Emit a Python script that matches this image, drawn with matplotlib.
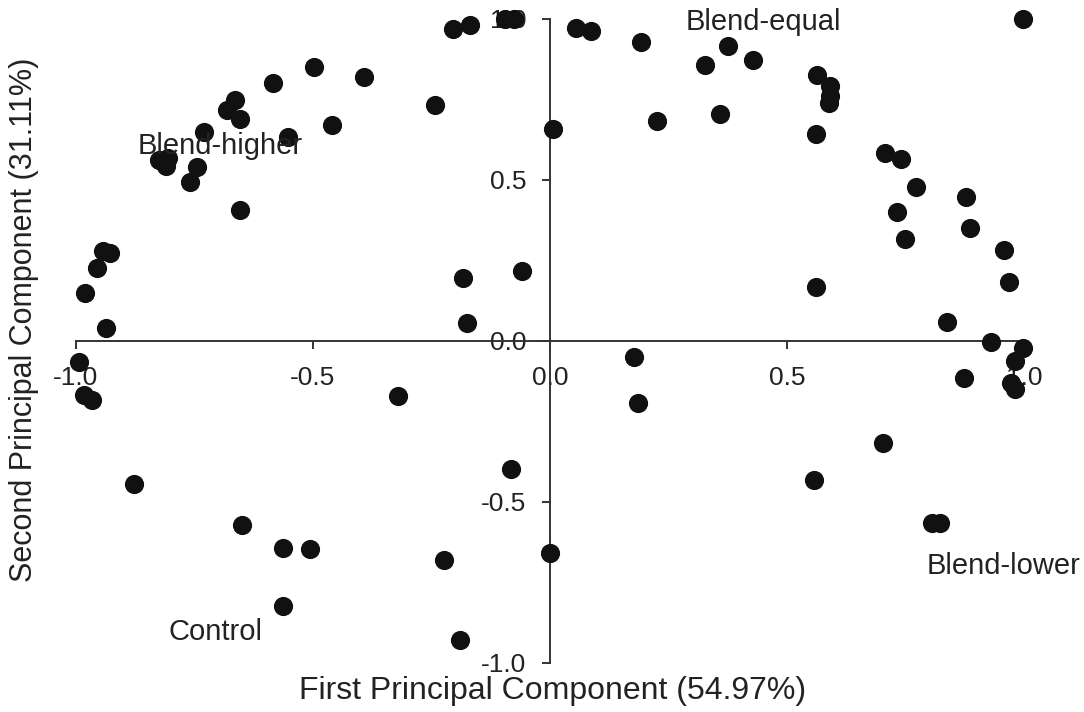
import numpy as np
import matplotlib
matplotlib.use('Agg')
import matplotlib.pyplot as plt

plt.rcParams['font.family'] = ['Liberation Sans', 'DejaVu Sans']

# PCA loadings
pc1 = [-0.205, -0.168, -0.095, -0.075, -0.498, -0.392, -0.585, -0.664, -0.681, -0.653,
       -0.243, -0.459, 0.006, -0.730, -0.552, -0.825, -0.806, -0.810, -0.744, -0.759,
       -0.654, -0.942, -0.928, -0.955, -0.981, -0.937, -0.183, -0.058, -0.174,
       0.056, 0.087, 0.192, 0.376, 0.328, 0.429, 0.564, 0.590, 0.590, 0.588,
       0.227, 0.360, 0.562, 0.999, 0.707, 0.741, 0.773, 0.879, 0.732, 0.886,
       0.749, 0.958, 0.969, 0.562, 0.837, 0.930, 0.999,
       -0.993, -0.983, -0.967, -0.321, -0.878, -0.081, -0.650, -0.562, -0.507, -0.224,
       0.0, -0.564, -0.189,
       0.177, 0.186, 0.981, 0.874, 0.972, 0.981, 0.703, 0.557, 0.806, 0.823]
pc2 = [0.966, 0.981, 0.997, 0.997, 0.849, 0.818, 0.800, 0.748, 0.717, 0.689,
       0.731, 0.670, 0.657, 0.648, 0.632, 0.562, 0.567, 0.541, 0.539, 0.492,
       0.406, 0.277, 0.272, 0.225, 0.147, 0.038, 0.194, 0.215, 0.054,
       0.971, 0.961, 0.927, 0.914, 0.857, 0.870, 0.824, 0.790, 0.759, 0.738,
       0.683, 0.704, 0.641, 1.0, 0.584, 0.564, 0.477, 0.445, 0.398, 0.349,
       0.315, 0.282, 0.181, 0.166, 0.059, -0.003, -0.024,
       -0.066, -0.170, -0.183, -0.173, -0.445, -0.399, -0.572, -0.642, -0.648, -0.681,
       -0.658, -0.824, -0.930,
       -0.052, -0.194, -0.062, -0.116, -0.132, -0.149, -0.318, -0.432, -0.567, -0.567]

groups = ['Blend-higher', 'Blend-equal', 'Control', 'Blend-lower']
group_x = [-0.870, 0.287, -0.804, 0.794]
group_y = [0.605, 0.99, -0.905, -0.70]

ticks = [-1.0, -0.5, 0.0, 0.5, 1.0]

fig = plt.figure(figsize=(10.84, 7.12), dpi=100)
ax = fig.add_axes([0.070, 0.069, 0.8745, 0.905])

ax.plot(pc1, pc2, 'o', color='#111111', markersize=12.8, clip_on=False, zorder=3)

for g, gx, gy in zip(groups, group_x, group_y):
    ax.text(gx, gy, g, fontsize=21, color='#222222', ha='left', va='center', zorder=4)

ax.set_xlim(-1, 1)
ax.set_ylim(-1, 1)
ax.spines['left'].set_position(('data', 0))
ax.spines['bottom'].set_position(('data', 0))
ax.spines['right'].set_visible(False)
ax.spines['top'].set_visible(False)
for s in ['left', 'bottom']:
    ax.spines[s].set_linewidth(1.4)
    ax.spines[s].set_color('#333333')

ax.set_xticks(ticks)
ax.set_yticks(ticks)
ax.set_xticklabels([f'{t:.1f}' for t in ticks])
ax.set_yticklabels([f'{t:.1f}' for t in ticks])
ax.tick_params(axis='both', direction='out', length=6, width=1.4, color='#333333',
               labelsize=19, labelcolor='#222222')
ax.tick_params(axis='x', pad=12)
ax.tick_params(axis='y', pad=11)

fig.text(0.510, 0.029, 'First Principal Component (54.97%)', fontsize=23,
         color='#222222', ha='center', va='center')
fig.text(0.022, 0.551, 'Second Principal Component (31.11%)', fontsize=22,
         color='#222222', ha='center', va='center', rotation=90)

fig.savefig('out.png', dpi=100)
